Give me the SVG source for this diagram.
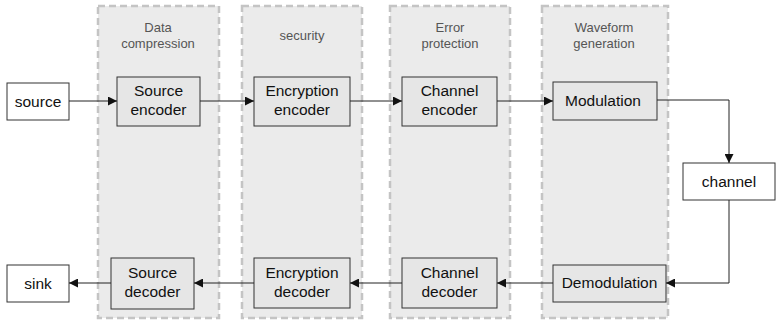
<svg xmlns="http://www.w3.org/2000/svg" width="778" height="325" viewBox="0 0 778 325">
  <style>
    .panel { fill: #ebebeb; stroke: #c4c4c4; stroke-width: 2.5; stroke-dasharray: 7 4; }
    .ptxt { font-family: "Liberation Sans", Arial, sans-serif; font-size: 13px; fill: #555; text-anchor: middle; }
    .box { fill: #e6e6e6; stroke: #333; stroke-width: 1; }
    .ext { fill: #fff; stroke: #333; stroke-width: 1; }
    .btxt { font-family: "Liberation Sans", Arial, sans-serif; font-size: 15.5px; fill: #111; text-anchor: middle; }
    .conn { fill: none; stroke: #222; stroke-width: 1; marker-end: url(#arr); }
  </style>
  <defs>
    <marker id="arr" viewBox="0 0 10 10" refX="10" refY="5" markerWidth="9" markerHeight="9" markerUnits="userSpaceOnUse" orient="auto">
      <path d="M0,0 L10,5 L0,10 z" fill="#111"/>
    </marker>
  </defs>

  <rect width="778" height="325" fill="#fff"/>

  <!-- function panels -->
  <g id="panel-compression">
    <rect class="panel" x="98" y="6" width="121" height="312"/>
    <text class="ptxt" x="158" y="32">Data</text>
    <text class="ptxt" x="158" y="48">compression</text>
  </g>
  <g id="panel-security">
    <rect class="panel" x="242" y="6" width="120" height="312"/>
    <text class="ptxt" x="302" y="40">security</text>
  </g>
  <g id="panel-protection">
    <rect class="panel" x="390" y="6" width="120" height="312"/>
    <text class="ptxt" x="450" y="32">Error</text>
    <text class="ptxt" x="450" y="48">protection</text>
  </g>
  <g id="panel-waveform">
    <rect class="panel" x="542" y="6" width="126" height="312"/>
    <text class="ptxt" x="604" y="32">Waveform</text>
    <text class="ptxt" x="604" y="48">generation</text>
  </g>

  <!-- transmit chain -->
  <g id="source">
    <rect class="ext" x="7" y="83" width="62" height="37"/>
    <text class="btxt" x="38" y="107">source</text>
  </g>
  <g id="source-encoder">
    <rect class="box" x="117" y="77" width="83" height="49"/>
    <text class="btxt" x="158.5" y="96">Source</text>
    <text class="btxt" x="158.5" y="115">encoder</text>
  </g>
  <g id="encryption-encoder">
    <rect class="box" x="254" y="77" width="96" height="49"/>
    <text class="btxt" x="302" y="96">Encryption</text>
    <text class="btxt" x="302" y="115">encoder</text>
  </g>
  <g id="channel-encoder">
    <rect class="box" x="402" y="77" width="95" height="49"/>
    <text class="btxt" x="449.5" y="96">Channel</text>
    <text class="btxt" x="449.5" y="115">encoder</text>
  </g>
  <g id="modulation">
    <rect class="box" x="553" y="82" width="104" height="38"/>
    <text class="btxt" x="603" y="106">Modulation</text>
  </g>

  <g id="channel">
    <rect class="ext" x="683" y="163" width="92" height="37"/>
    <text class="btxt" x="729" y="187">channel</text>
  </g>

  <!-- receive chain -->
  <g id="demodulation">
    <rect class="box" x="553" y="265" width="113" height="37"/>
    <text class="btxt" x="609.5" y="288">Demodulation</text>
  </g>
  <g id="channel-decoder">
    <rect class="box" x="402" y="258" width="95" height="50"/>
    <text class="btxt" x="449.5" y="278">Channel</text>
    <text class="btxt" x="449.5" y="297">decoder</text>
  </g>
  <g id="encryption-decoder">
    <rect class="box" x="254" y="258" width="96" height="50"/>
    <text class="btxt" x="302" y="278">Encryption</text>
    <text class="btxt" x="302" y="297">decoder</text>
  </g>
  <g id="source-decoder">
    <rect class="box" x="111" y="258" width="83" height="51"/>
    <text class="btxt" x="152.5" y="278">Source</text>
    <text class="btxt" x="152.5" y="297">decoder</text>
  </g>
  <g id="sink">
    <rect class="ext" x="7" y="265" width="62" height="37"/>
    <text class="btxt" x="38" y="289">sink</text>
  </g>

  <!-- connectors -->
  <g id="connectors">
    <path class="conn" d="M69,101 H117"/>
    <path class="conn" d="M200,101 H254"/>
    <path class="conn" d="M350,101 H402"/>
    <path class="conn" d="M497,101 H553"/>
    <path class="conn" d="M657,100 H729 V163"/>
    <path class="conn" d="M729,200 V283 H666"/>
    <path class="conn" d="M553,283 H497"/>
    <path class="conn" d="M402,283 H350"/>
    <path class="conn" d="M254,283 H194"/>
    <path class="conn" d="M111,283 H69"/>
  </g>
</svg>
